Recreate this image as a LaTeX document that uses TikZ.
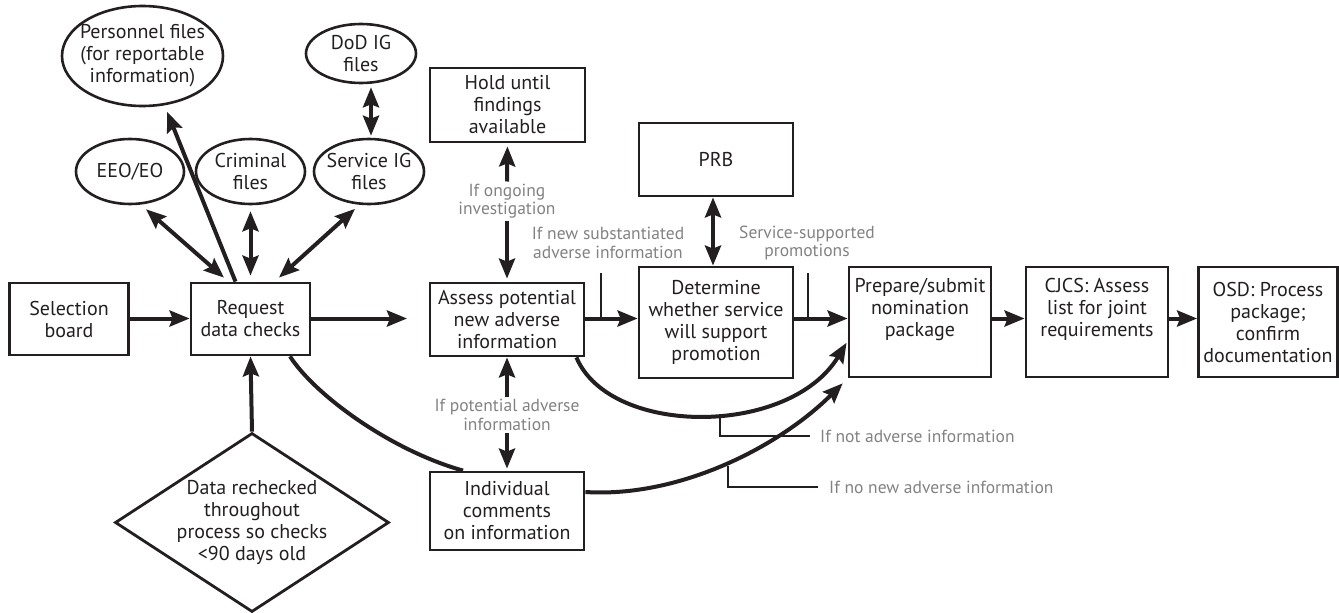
\documentclass[tikz,border=0pt]{standalone}
\usepackage{fontspec}
\setmainfont{PT Sans}
\usetikzlibrary{shapes.geometric,arrows.meta}
\definecolor{ink}{RGB}{35,31,32}
\definecolor{lblgray}{RGB}{130,130,130}
\newcommand{\boxfont}{\fontsize{20}{22}\selectfont}
\newcommand{\lblfont}{\fontsize{17.5}{18.5}\selectfont}

\begin{document}
\begin{tikzpicture}[x=1pt,y=-1pt,
  >={Stealth[length=20pt,width=16pt,inset=3pt]},
  box/.style={draw=ink, line width=2.8pt, text=ink, align=center, inner sep=0pt, font=\boxfont},
  oval/.style={ellipse, draw=ink, line width=2.6pt, text=ink, align=center, inner sep=-10pt, font=\boxfont},
  lbl/.style={text=lblgray, align=center, inner sep=2pt, font=\lblfont},
  arr/.style={draw=ink, line width=4pt, ->},
  dblarr/.style={draw=ink, line width=4pt, <->},
  flow/.style={draw=ink, line width=4pt},
  leader/.style={draw=ink, line width=2.5pt}]
\useasboundingbox (0,0) rectangle (1339,613);

\node[oval, minimum width=161, minimum height=100] (pers) at (142.5,56) {Personnel files\\(for reportable\\information)};
\node[oval, minimum width=110, minimum height=59] (dod) at (361,53.5) {DoD IG\\files};
\node[oval, minimum width=108, minimum height=65] (eeo) at (130,171.5) {EEO/EO};
\node[oval, minimum width=109, minimum height=65] (crim) at (250.5,171.5) {Criminal\\files};
\node[oval, minimum width=110, minimum height=65] (svc) at (369,171.5) {Service IG\\files};

\node[box, minimum width=119, minimum height=72] (sel) at (69,319) {Selection\\board};
\node[box, minimum width=119, minimum height=72] (req) at (250.5,319) {Request\\data checks};
\node[box, diamond, inner sep=-30pt, minimum width=274, minimum height=179] (recheck) at (252,522.5) {Data rechecked\\throughout\\process so checks\\<90 days old};

\node[box, minimum width=155, minimum height=74] (hold) at (507.5,105) {Hold until\\findings\\available};
\node[box, minimum width=154, minimum height=73] (assess) at (507,319.5) {Assess potential\\new adverse\\information};
\node[box, minimum width=154, minimum height=78] (indiv) at (507,511) {Individual\\comments\\on information};
\node[box, minimum width=154, minimum height=73] (prb) at (716,159.5) {PRB};
\node[box, minimum width=154, minimum height=111] (det) at (716,322.5) {Determine\\whether service\\will support\\promotion};
\node[box, minimum width=142, minimum height=110] (prep) at (920,322) {Prepare/submit\\nomination\\package\\\strut};
\node[box, minimum width=142, minimum height=110] (cjcs) at (1097,322) {CJCS: Assess\\list for joint\\requirements\\\strut};
\node[box, minimum width=139, minimum height=110] (osd) at (1268,322) {OSD: Process\\package;\\confirm\\documentation};

\node[lbl] (ongoing) at (507,201) {If ongoing\\investigation};
\node[lbl] (newsub) at (608,243) {If new substantiated\\adverse information};
\node[lbl] (svcsup) at (807,243) {Service-supported\\promotions};
\node[lbl] (potadv) at (507,415) {If potential adverse\\information};
\node[lbl, anchor=west] (notadv) at (818,436) {If not adverse information};
\node[lbl, anchor=west] (nonew) at (827,487) {If no new adverse information};

\draw[dblarr, shorten <=7pt, shorten >=6pt] (eeo.-72) -- ([xshift=-22pt]req.north);
\draw[arr, shorten >=7pt] ([xshift=-15pt]req.north) -- (pers.-66);
\draw[dblarr, shorten <=6pt, shorten >=6pt] (crim.south) -- (req.north);
\draw[dblarr, shorten <=6pt, shorten >=6pt] (svc.-106) -- ([xshift=24pt]req.north);
\draw[dblarr, shorten <=3pt, shorten >=2pt] ([xshift=10pt]dod.south) -- ([xshift=2pt]svc.north);

\coordinate (row) at (0,318.5);
\coordinate (reqend) at (407,318.5);
\draw[arr] (sel.east |- row) -- (req.west |- row);
\draw[arr] (req.east |- row) -- (reqend);
\draw[arr] (assess.east |- row) -- (det.west |- row);
\draw[arr] (det.east |- row) -- (prep.west |- row);
\draw[arr] (prep.east |- row) -- (cjcs.west |- row);
\draw[arr] (cjcs.east |- row) -- (osd.west |- row);

\draw[arr, shorten >=3pt] (ongoing.north) -- (hold.south);
\draw[arr, shorten >=3pt] (ongoing.south) -- (assess.north);
\draw[dblarr] ([xshift=-3pt]prb.south) -- ([xshift=-3pt]det.north);
\draw[arr] (potadv.north) -- (assess.south);
\draw[arr, shorten >=2pt] (potadv.south) -- (indiv.north);
\draw[arr] (recheck.north) -- (req.south);

\coordinate (tick1) at (601,273);
\coordinate (tick2) at (808,273);
\draw[leader] (tick1) -- (tick1 |- row);
\draw[leader] (tick2) -- (tick2 |- row);

\draw[flow] ([xshift=39.5pt]req.south) .. controls (315,395) and (390,450) .. ([xshift=-44pt]indiv.north);
\draw[arr, shorten >=2pt] ([xshift=-9pt]assess.south east) .. controls (610,437) and (790,437) .. ([yshift=-19pt]prep.west);
\draw[arr, shorten >=7pt] ([yshift=19pt]indiv.east) .. controls (680,498) and (780,446) .. (prep.south west);

\coordinate (nt) at (720,415);
\coordinate (nn) at (728,466);
\draw[leader] (nt) |- ([xshift=-8pt]notadv.west);
\draw[leader] (nn) |- ([xshift=-9pt]nonew.west);
\end{tikzpicture}
\end{document}
